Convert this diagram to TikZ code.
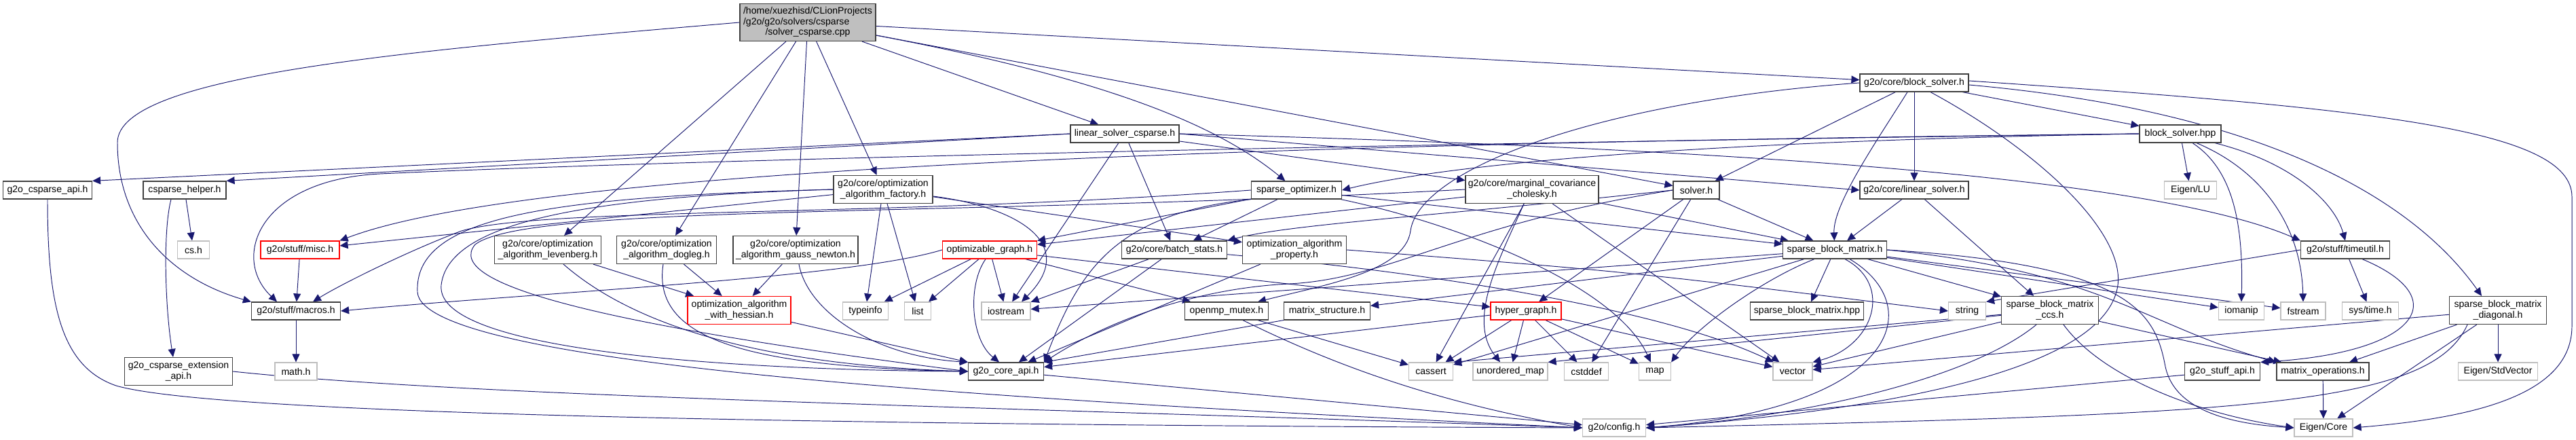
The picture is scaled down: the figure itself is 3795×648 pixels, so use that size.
\documentclass[tikz,border=0pt]{standalone}
\usepackage{fontspec}
\setmainfont{Liberation Sans}
\usetikzlibrary{arrows.meta,calc,backgrounds}
\definecolor{EdgeBlue}{RGB}{25,25,112}
\definecolor{Grey25}{RGB}{64,64,64}
\definecolor{Grey75}{RGB}{191,191,191}
\definecolor{CutRed}{RGB}{255,0,0}

\begin{document}
\begin{tikzpicture}[x=0.02cm,y=-0.02cm,
    hdr/.style={rectangle,draw=Grey25,fill=white,line width=0.7pt,minimum height=0.52cm,inner xsep=0.06cm,inner ysep=0.04cm,font=\fontsize{8}{8.8}\selectfont,align=center},
    syshdr/.style={hdr,draw=Grey75},
    cuthdr/.style={hdr,draw=CutRed},
    twoline/.style={minimum height=0.82cm},
    dep/.style={-{Triangle[length=2.4mm,width=2.2mm]},line width=0.55pt,color=EdgeBlue}
]
\useasboundingbox (0,0) rectangle (3795,648);

% Source file
\node[hdr,fill=Grey75,minimum width=4cm,minimum height=1.1cm] (root) at (1190,33) {\begin{tabular}{@{}l@{}}/home/xuezhisd/CLionProjects\\/g2o/g2o/solvers/csparse\\\multicolumn{1}{@{}c@{}}{/solver\_csparse.cpp}\end{tabular}};

% Headers, top to bottom
\node[hdr,minimum width=3.2cm] (bs) at (2820,122) {g2o/core/block\_solver.h};

\node[hdr,minimum width=3.2cm] (lcs) at (1657,197) {linear\_solver\_csparse.h};
\node[hdr,minimum width=2.4cm] (bshpp) at (3212,197) {block\_solver.hpp};

\node[hdr,minimum width=2.62cm] (csapi) at (70,280) {g2o\_csparse\_api.h};
\node[hdr,minimum width=2.44cm] (cshelper) at (272,280) {csparse\_helper.h};
\node[hdr,twoline,minimum width=2.92cm] (factory) at (1301,279) {g2o/core/optimization\\\_algorithm\_factory.h};
\node[hdr,minimum width=2.66cm] (sopt) at (1910,280) {sparse\_optimizer.h};
\node[hdr,twoline,minimum width=3.92cm] (margcov) at (2257,279) {g2o/core/marginal\_covariance\\\_cholesky.h};
\node[hdr,minimum width=1.36cm] (solver) at (2499,280) {solver.h};
\node[hdr,minimum width=3.2cm] (linsolver) at (2820,280) {g2o/core/linear\_solver.h};
\node[syshdr,minimum width=1.54cm] (eigenlu) at (3227,280) {Eigen/LU};

\node[syshdr,minimum width=0.94cm] (cs) at (285,368) {cs.h};
\node[cuthdr,minimum width=2.32cm] (misc) at (442,368) {g2o/stuff/misc.h};
\node[hdr,twoline,minimum width=3.14cm] (lm) at (807,368) {g2o/core/optimization\\\_algorithm\_levenberg.h};
\node[hdr,twoline,minimum width=2.94cm] (dl) at (982,368) {g2o/core/optimization\\\_algorithm\_dogleg.h};
\node[hdr,twoline,minimum width=3.68cm] (gn) at (1172,368) {g2o/core/optimization\\\_algorithm\_gauss\_newton.h};
\node[cuthdr,minimum width=2.78cm] (optgraph) at (1458,368) {optimizable\_graph.h};
\node[hdr,minimum width=3.1cm] (batch) at (1730,368) {g2o/core/batch\_stats.h};
\node[hdr,twoline,minimum width=3.06cm] (property) at (1907,368) {optimization\_algorithm\\\_property.h};
\node[hdr,minimum width=3.06cm] (sbm) at (2703,368) {sparse\_block\_matrix.h};
\node[hdr,minimum width=2.62cm] (timeutil) at (3455,368) {g2o/stuff/timeutil.h};

\node[hdr,minimum width=2.62cm] (macros) at (436,458) {g2o/stuff/macros.h};
\node[cuthdr,twoline,minimum width=3.04cm] (hessian) at (1089,457) {optimization\_algorithm\\\_with\_hessian.h};
\node[syshdr,minimum width=1.34cm] (typeinfo) at (1275,458) {typeinfo};
\node[syshdr,minimum width=0.78cm] (list) at (1352,458) {list};
\node[syshdr,minimum width=1.44cm] (iostream) at (1482,458) {iostream};
\node[hdr,minimum width=2.46cm] (mutex) at (1807,458) {openmp\_mutex.h};
\node[hdr,minimum width=2.54cm] (mstruct) at (1955,458) {matrix\_structure.h};
\node[cuthdr,minimum width=2.08cm] (hypergraph) at (2248,458) {hyper\_graph.h};
\node[hdr,minimum width=3.34cm] (sbmhpp) at (2662,458) {sparse\_block\_matrix.hpp};
\node[syshdr,minimum width=1.1cm] (string) at (2898,458) {string};
\node[hdr,twoline,minimum width=2.86cm] (ccs) at (3020,457) {sparse\_block\_matrix\\\_ccs.h};
\node[syshdr,minimum width=1.34cm] (iomanip) at (3302,458) {iomanip};
\node[syshdr,minimum width=1.32cm] (fstream) at (3393,458) {fstream};
\node[syshdr,minimum width=1.66cm] (systime) at (3492,458) {sys/time.h};
\node[hdr,twoline,minimum width=2.86cm] (sbmdiag) at (3680,457) {sparse\_block\_matrix\\\_diagonal.h};

\node[hdr,twoline,minimum width=3.18cm] (csextapi) at (263,547) {g2o\_csparse\_extension\\\_api.h};
\node[syshdr,minimum width=1.24cm] (math) at (436,547) {math.h};
\node[hdr,minimum width=2.22cm] (coreapi) at (1482,547) {g2o\_core\_api.h};
\node[syshdr,minimum width=1.3cm] (cassert) at (2108,547) {cassert};
\node[syshdr,minimum width=2.2cm] (umap) at (2225,547) {unordered\_map};
\node[syshdr,minimum width=1.3cm] (cstddef) at (2337,547) {cstddef};
\node[syshdr,minimum width=0.94cm] (map) at (2438,547) {map};
\node[syshdr,minimum width=1.16cm] (vector) at (2641,547) {vector};
\node[hdr,minimum width=2.22cm] (stuffapi) at (3274,547) {g2o\_stuff\_api.h};
\node[hdr,minimum width=2.72cm] (mops) at (3422,547) {matrix\_operations.h};
\node[syshdr,minimum width=2.34cm] (stdvec) at (3680,547) {Eigen/StdVector};

\node[syshdr,minimum width=1.86cm] (config) at (2378,630) {g2o/config.h};
\node[syshdr,minimum width=1.72cm] (eigencore) at (3423,630) {Eigen/Core};

\begin{pgfonlayer}{background}
% solver_csparse.cpp
\draw[dep] (root) -- (lcs);
\draw[dep] (root) -- (bs);
\draw[dep] (root) -- (solver);
\draw[dep] (root) -- (factory);
\draw[dep] (root) -- (gn);
\draw[dep] (root) -- (dl);
\draw[dep] (root) -- (lm);
\draw[dep] (root) .. controls (1650,120) and (1800,190) .. (sopt);
\draw[dep] (root.west) .. controls (600,75) and (173,110) .. (173,210) .. controls (173,330) and (250,410) .. (macros.north west);

% block_solver.h
\draw[dep] (bs) -- (solver);
\draw[dep] (bs) -- (linsolver);
\draw[dep] (bs) -- (bshpp);
\draw[dep] ($(bs.south)+(-10,0)$) .. controls (2770,200) and (2700,300) .. (sbm);
\draw[dep] ($(bs.east)+(0,3)$) .. controls (3350,165) and (3560,300) .. ($(sbmdiag.north)+(-24,0)$);
\draw[dep] ($(bs.east)+(0,-3)$) .. controls (3500,160) and (3789,190) .. (3789,290) -- (3789,480) .. controls (3789,580) and (3650,615) .. (eigencore.east);
\draw[dep] ($(bs.south)+(24,0)$) .. controls (3000,220) and (3130,340) .. (3120,420) .. controls (3100,560) and (2700,610) .. (config.east);
\draw[dep] (bs.west) .. controls (2350,150) and (2090,250) .. (2078,340) .. controls (2070,400) and (1950,420) .. ($(mutex.north)+(46,0)$);

% linear_solver_csparse.h
\draw[dep] (lcs.west) -- (csapi.north east);
\draw[dep] (lcs.west) -- (cshelper.north east);
\draw[dep] (lcs) -- (iostream);
\draw[dep] (lcs) -- (batch);
\draw[dep] (lcs.east) -- (linsolver.west);
\draw[dep] (lcs) -- (margcov);
\draw[dep] (lcs.east) .. controls (2400,215) and (3150,250) .. (timeutil.north west);

% block_solver.hpp
\draw[dep] (bshpp.west) .. controls (2400,210) and (2100,250) .. (sopt.east);
\draw[dep] (bshpp.west) .. controls (2000,210) and (800,240) .. (misc.north east);
\draw[dep] (bshpp.west) .. controls (1800,215) and (900,240) .. (560,256) .. controls (380,265) and (340,380) .. ($(macros.north)+(-28,0)$);
\draw[dep] (bshpp) -- (eigenlu);
\draw[dep] ($(bshpp.south)+(18,0)$) .. controls (3290,250) and (3305,330) .. (iomanip.north);
\draw[dep] ($(bshpp.south)+(24,0)$) .. controls (3330,250) and (3390,330) .. (fstream.north);
\draw[dep] ($(bshpp.south)+(51,0)$) .. controls (3380,240) and (3440,300) .. (timeutil.north);

% csparse headers
\draw[dep] (csapi.south) .. controls (70,450) and (90,540) .. (171,568) .. controls (300,605) and (1000,625) .. (config.west);
\draw[dep] (cshelper) -- (cs);
\draw[dep] ($(cshelper.south)+(-20,0)$) .. controls (240,340) and (243,450) .. ($(csextapi.north)+(-8,0)$);
\draw[dep] (csextapi.east) .. controls (700,585) and (1500,600) .. (config.west);

% stuff headers
\draw[dep] (misc) -- (macros);
\draw[dep] (macros) -- (math);
\draw[dep] (timeutil) -- (systime);
\draw[dep] (timeutil.west) -- (string.north east);
\draw[dep] ($(timeutil.south)+(25,0)$) .. controls (3620,440) and (3560,520) .. (stuffapi.north east);
\draw[dep] (stuffapi) -- (config);

% optimization algorithms
\draw[dep] (factory) -- (property);
\draw[dep] (factory) -- (typeinfo);
\draw[dep] (factory) -- (list);
\draw[dep] (factory) -- (misc);
\draw[dep] ($(factory.east)+(0,10)$) .. controls (1500,305) and (1590,360) .. ($(iostream.north)+(23,0)$);
\draw[dep] (factory.west) .. controls (850,290) and (660,330) .. (650,420) .. controls (640,520) and (1100,545) .. (coreapi.west);
\draw[dep] (factory.west) .. controls (800,290) and (610,320) .. (615,430) .. controls (620,540) and (1500,590) .. (config.west);
\draw[dep] (lm) -- (hessian);
\draw[dep] ($(lm.south)+(23,0)$) .. controls (900,450) and (1050,535) .. (coreapi.west);
\draw[dep] (dl) -- (hessian);
\draw[dep] ($(dl.south)+(-5,0)$) .. controls (960,500) and (1100,540) .. (coreapi.west);
\draw[dep] (gn) -- (hessian);
\draw[dep] ($(gn.south)+(5,0)$) .. controls (1190,460) and (1290,525) .. (coreapi.north west);
\draw[dep] (hessian) -- (coreapi.north west);
\draw[dep] (property) -- (coreapi);
\draw[dep] (property.east) .. controls (2400,400) .. (string.west);

% sparse_optimizer.h
\draw[dep] (sopt) -- (optgraph);
\draw[dep] (sopt) -- (batch);
\draw[dep] (sopt) -- (sbm);
\draw[dep] (sopt.south west) .. controls (1640,315) and (1590,400) .. (coreapi.north east);
\draw[dep] (sopt) .. controls (2150,330) and (2380,420) .. (map);
\draw[dep] (sopt.west) .. controls (1300,320) and (800,305) .. (680,340) .. controls (600,370) and (500,420) .. ($(macros.north)+(25,0)$);

% marginal_covariance_cholesky.h
\draw[dep] (margcov) -- (optgraph);
\draw[dep] (margcov) -- (sbm);
\draw[dep] (margcov) -- (cassert);
\draw[dep] ($(margcov.south)+(-12,0)$) .. controls (2210,380) and (2160,470) .. ($(umap.north)+(-15,0)$);
\draw[dep] (margcov) -- (vector);
\draw[dep] (margcov.west) .. controls (1400,320) and (780,300) .. (700,360) .. controls (650,420) and (900,480) .. (coreapi.west);

% solver.h
\draw[dep] (solver) -- (hypergraph);
\draw[dep] (solver) -- (cstddef);
\draw[dep] (solver) -- (sbm);
\draw[dep] (solver.west) .. controls (2100,320) and (1900,330) .. (batch.north east);
\draw[dep] (solver.west) .. controls (2150,330) and (2050,410) .. (1900,418) .. controls (1750,425) and (1620,480) .. (coreapi.north east);

% linear_solver.h
\draw[dep] (linsolver) -- (sbm);
\draw[dep] (linsolver) -- (ccs);

% optimizable_graph.h
\draw[dep] (optgraph) -- (typeinfo);
\draw[dep] (optgraph) -- (list);
\draw[dep] (optgraph) -- (iostream);
\draw[dep] (optgraph) -- (mutex);
\draw[dep] (optgraph) -- (hypergraph);
\draw[dep] ($(optgraph.south)+(-6,0)$) .. controls (1425,420) and (1430,500) .. ($(coreapi.north)+(-10,0)$);
\draw[dep] (optgraph.west) .. controls (1250,410) and (800,430) .. (macros.east);

% batch_stats.h, openmp_mutex.h, matrix_structure.h
\draw[dep] (batch) -- (iostream);
\draw[dep] (batch) -- (coreapi);
\draw[dep] (batch) .. controls (2100,400) and (2450,455) .. (vector);
\draw[dep] (mutex) -- (cassert);
\draw[dep] ($(mutex.south)+(24,0)$) .. controls (1950,530) and (2100,590) .. (config.west);
\draw[dep] (mstruct.south west) -- (coreapi.north east);

% hyper_graph.h
\draw[dep] (hypergraph) -- (cassert);
\draw[dep] (hypergraph) -- (umap);
\draw[dep] (hypergraph) -- (cstddef);
\draw[dep] (hypergraph) -- (map);
\draw[dep] (hypergraph) -- (vector);
\draw[dep] (hypergraph) -- (coreapi);

% sparse_block_matrix.h
\draw[dep] (sbm) -- (sbmhpp);
\draw[dep] (sbm) -- (ccs);
\draw[dep] (sbm) -- (mstruct);
\draw[dep] (sbm) -- (cassert);
\draw[dep] (sbm) -- (iostream);
\draw[dep] (sbm) -- (iomanip);
\draw[dep] (sbm) -- (fstream);
\draw[dep] ($(sbm.south)+(-30,0)$) .. controls (2600,410) and (2500,480) .. (map.north east);
\draw[dep] ($(sbm.south)+(15,0)$) .. controls (2790,420) and (2760,510) .. (vector.north east);
\draw[dep] ($(sbm.south)+(22,0)$) .. controls (2840,450) and (2800,600) .. (config.east);
\draw[dep] (sbm.east) .. controls (3100,400) and (3160,480) .. (mops.north west);
\draw[dep] (sbm.east) .. controls (3140,390) and (3175,460) .. (3190,540) .. controls (3205,610) and (3300,625) .. (eigencore.west);

% sparse_block_matrix_ccs.h
\draw[dep] (ccs) -- (vector);
\draw[dep] (ccs) -- (cassert.north east);
\draw[dep] (ccs) -- (umap.north east);
\draw[dep] (ccs) -- (mops);
\draw[dep] ($(ccs.south)+(-20,0)$) .. controls (2900,560) and (2650,615) .. (config.east);
\draw[dep] ($(ccs.south)+(20,0)$) .. controls (3100,560) and (3250,612) .. (eigencore.west);

% sparse_block_matrix_diagonal.h
\draw[dep] (sbmdiag) -- (vector);
\draw[dep] (sbmdiag) -- (mops);
\draw[dep] (sbmdiag) -- (eigencore);
\draw[dep] (sbmdiag) -- (stdvec);
\draw[dep] ($(sbmdiag.south)+(-45,0)$) .. controls (3580,600) and (3300,610) .. (config.east);

% remaining
\draw[dep] (mops) -- (eigencore);
\draw[dep] (coreapi) -- (config);
\end{pgfonlayer}
\end{tikzpicture}
\end{document}
